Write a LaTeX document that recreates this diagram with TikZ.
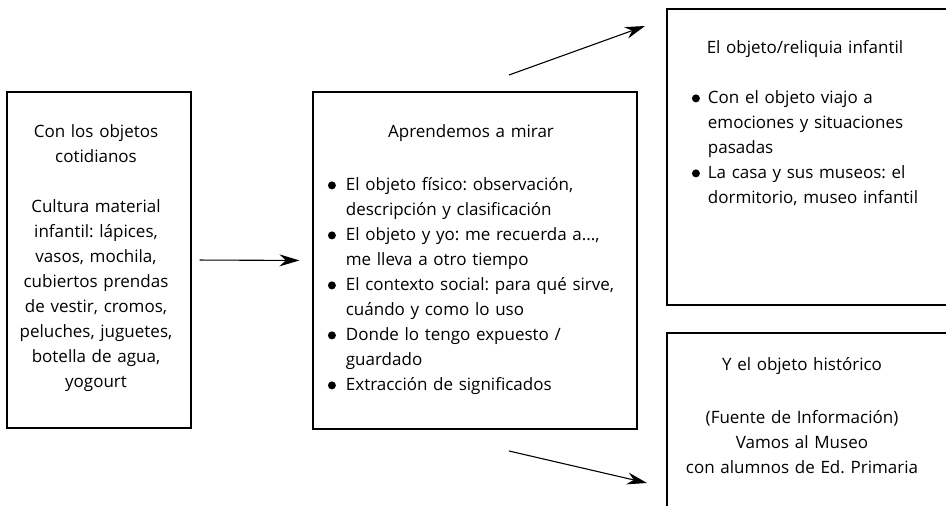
\documentclass[tikz,border=0pt]{standalone}
\usepackage{fontspec}
\setmainfont{Open Sans}
\usetikzlibrary{arrows.meta}
\newcommand{\bdot}{\raisebox{0.8pt}{\tikz\fill (0pt,0pt) circle[radius=4pt];}}
\frenchspacing
\begin{document}
\begin{tikzpicture}[x=1pt,y=-1pt,
  box/.style={draw, line width=1.2pt, inner sep=0pt},
  txt/.style={inner sep=0pt, anchor=north, align=center, font=\fontsize{17}{25}\selectfont},
  arr/.style={line width=1.1pt, -{Stealth[length=20pt,width=12pt]}}]
\useasboundingbox (0,0) rectangle (946,506);
\clip (0,0) rectangle (946,506);
% boxes
\node[box, minimum width=184pt, minimum height=336pt] (left) at (99,260) {};
\node[box, minimum width=324pt, minimum height=337pt] (mid) at (475,260.5) {};
\node[box, minimum width=300pt, minimum height=296pt] (rtop) at (817,157) {};
\node[box, minimum width=300pt, minimum height=207pt] (rbot) at (817,436.5) {};
% texts
\node[txt, text width=180pt] (lefttxt) at (96,119.5) {\strut Con los objetos\\cotidianos\\[25pt]Cultura material\\infantil: lápices,\\vasos, mochila,\\cubiertos prendas\\de vestir, cromos,\\peluches, juguetes,\\botella de agua,\\yogourt};
\node[txt, text width=320pt] (midtxt) at (471,119.5) {\strut Aprendemos a mirar\\[28pt]
\begin{tabular}[t]{@{}p{18pt}@{}l@{}}
\bdot & El objeto físico: observación,\\
 & descripción y clasificación\\
\bdot & El objeto y yo: me recuerda a...,\\
 & me lleva a otro tiempo\\
\bdot & El contexto social: para qué sirve,\\
 & cuándo y como lo uso\\
\bdot & Donde lo tengo expuesto /\\
 & guardado\\
\bdot & Extracción de significados
\end{tabular}};
\node[txt, text width=270pt] (rtoptxt) at (805,35.5) {\strut El objeto/reliquia infantil\\[25pt]
\begin{tabular}[t]{@{}p{16pt}@{}l@{}}
\bdot & Con el objeto viajo a\\
 & emociones y situaciones\\
 & pasadas\\
\bdot & La casa y sus museos: el\\
 & dormitorio, museo infantil
\end{tabular}};
\node[txt, text width=270pt] (rbottxt) at (802,352.5) {\strut Y el objeto histórico\\[28pt](Fuente de Información)\\Vamos al Museo\\con alumnos de Ed. Primaria};
% connectors
\coordinate (a1s) at (509,75);
\coordinate (a1e) at (645,26);
\coordinate (a2s) at (509,451);
\coordinate (a2e) at (647,483);
\draw[arr, shorten <=8pt, shorten >=13pt] (left.east) -- (mid.west);
\draw[arr] (a1s) -- (a1e);
\draw[arr] (a2s) -- (a2e);
\end{tikzpicture}
\end{document}
